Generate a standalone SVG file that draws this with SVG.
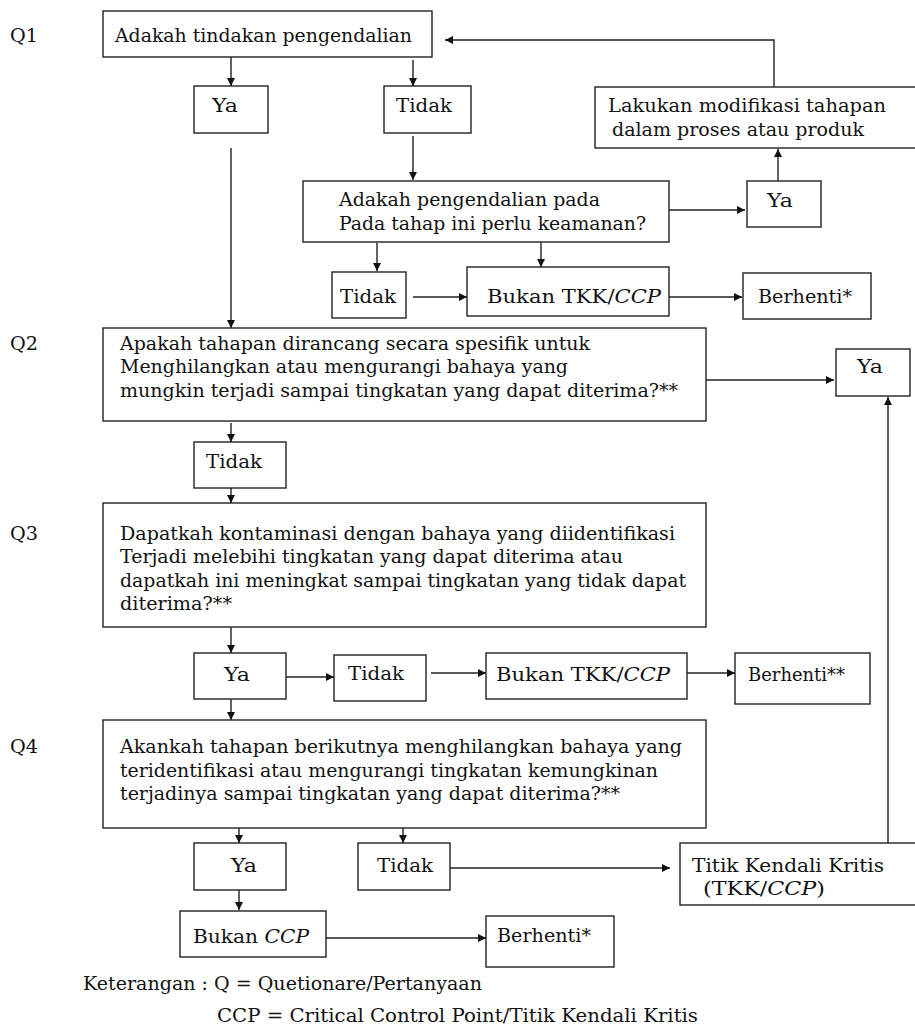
<svg xmlns="http://www.w3.org/2000/svg" width="915" height="1030" viewBox="0 0 915 1030">
<defs>
<style>
.box{fill:#fff;stroke:#222;stroke-width:1.4}
.ln{fill:none;stroke:#222;stroke-width:1.4}
.t{font-family:"DejaVu Serif","Liberation Serif",serif;font-size:18.5px;fill:#111}
.i{font-style:italic}
</style>
<marker id="ah" viewBox="0 0 10 10" refX="10" refY="5" markerWidth="8" markerHeight="9" markerUnits="userSpaceOnUse" orient="auto">
<path d="M0,0 L10,5 L0,10 z" fill="#111"/>
</marker>
</defs>
<rect width="915" height="1030" fill="#fff"/>

<g id="labels">
<text class="t" x="10" y="42" textLength="28" lengthAdjust="spacingAndGlyphs">Q1</text>
<text class="t" x="10" y="350" textLength="28" lengthAdjust="spacingAndGlyphs">Q2</text>
<text class="t" x="10" y="540" textLength="28" lengthAdjust="spacingAndGlyphs">Q3</text>
<text class="t" x="10" y="753" textLength="28" lengthAdjust="spacingAndGlyphs">Q4</text>
</g>

<g id="connectors">
<line class="ln" x1="231" y1="57" x2="231" y2="86" marker-end="url(#ah)"/>
<line class="ln" x1="413" y1="60" x2="413" y2="86" marker-end="url(#ah)"/>
<line class="ln" x1="231" y1="148" x2="231" y2="328" marker-end="url(#ah)"/>
<line class="ln" x1="413" y1="136" x2="413" y2="180" marker-end="url(#ah)"/>
<line class="ln" x1="377" y1="243" x2="377" y2="271" marker-end="url(#ah)"/>
<line class="ln" x1="541" y1="242" x2="541" y2="267" marker-end="url(#ah)"/>
<line class="ln" x1="413" y1="297" x2="467" y2="297" marker-end="url(#ah)"/>
<line class="ln" x1="669" y1="297" x2="742" y2="297" marker-end="url(#ah)"/>
<line class="ln" x1="669" y1="210" x2="745" y2="210" marker-end="url(#ah)"/>
<line class="ln" x1="778" y1="181" x2="778" y2="149" marker-end="url(#ah)"/>
<polyline class="ln" points="774,87 774,40 445,40" marker-end="url(#ah)"/>
<line class="ln" x1="706" y1="380" x2="834" y2="380" marker-end="url(#ah)"/>
<line class="ln" x1="231" y1="423" x2="231" y2="442" marker-end="url(#ah)"/>
<line class="ln" x1="231" y1="488" x2="231" y2="503" marker-end="url(#ah)"/>
<line class="ln" x1="231" y1="627" x2="231" y2="653" marker-end="url(#ah)"/>
<line class="ln" x1="286" y1="677" x2="334" y2="677" marker-end="url(#ah)"/>
<line class="ln" x1="431" y1="673" x2="486" y2="673" marker-end="url(#ah)"/>
<line class="ln" x1="687" y1="673" x2="735" y2="673" marker-end="url(#ah)"/>
<line class="ln" x1="231" y1="699" x2="231" y2="720" marker-end="url(#ah)"/>
<line class="ln" x1="239" y1="828" x2="239" y2="843" marker-end="url(#ah)"/>
<line class="ln" x1="403" y1="828" x2="403" y2="843" marker-end="url(#ah)"/>
<line class="ln" x1="450" y1="868" x2="670" y2="868" marker-end="url(#ah)"/>
<line class="ln" x1="888" y1="843" x2="888" y2="397" marker-end="url(#ah)"/>
<line class="ln" x1="239" y1="890" x2="239" y2="910" marker-end="url(#ah)"/>
<line class="ln" x1="326" y1="938" x2="486" y2="938" marker-end="url(#ah)"/>
</g>

<g id="n-q1">
<rect class="box" x="103" y="11" width="329" height="46"/>
<text class="t" x="115" y="42" textLength="297" lengthAdjust="spacingAndGlyphs">Adakah tindakan pengendalian</text>
</g>
<g id="n-q1-ya">
<rect class="box" x="194" y="86" width="74" height="47"/>
<text class="t" x="212" y="112" textLength="26" lengthAdjust="spacingAndGlyphs">Ya</text>
</g>
<g id="n-q1-tidak">
<rect class="box" x="384" y="86" width="87" height="47"/>
<text class="t" x="396" y="112" textLength="56" lengthAdjust="spacingAndGlyphs">Tidak</text>
</g>
<g id="n-modifikasi">
<rect class="box" x="595" y="87" width="325" height="61"/>
<text class="t" x="608" y="112" textLength="278" lengthAdjust="spacingAndGlyphs">Lakukan modifikasi tahapan</text>
<text class="t" x="612" y="136" textLength="252" lengthAdjust="spacingAndGlyphs">dalam proses atau produk</text>
</g>
<g id="n-q1b">
<rect class="box" x="303" y="181" width="366" height="61"/>
<text class="t" x="339" y="206" textLength="261" lengthAdjust="spacingAndGlyphs">Adakah pengendalian pada</text>
<text class="t" x="339" y="230" textLength="307" lengthAdjust="spacingAndGlyphs">Pada tahap ini perlu keamanan?</text>
</g>
<g id="n-q1b-ya">
<rect class="box" x="747" y="181" width="74" height="46"/>
<text class="t" x="767" y="207" textLength="26" lengthAdjust="spacingAndGlyphs">Ya</text>
</g>
<g id="n-q1b-tidak">
<rect class="box" x="332" y="272" width="74" height="46"/>
<text class="t" x="340" y="303" textLength="56" lengthAdjust="spacingAndGlyphs">Tidak</text>
</g>
<g id="n-bukan1">
<rect class="box" x="467" y="267" width="202" height="49"/>
<text class="t" x="487" y="303" textLength="174" lengthAdjust="spacingAndGlyphs">Bukan TKK/<tspan class="i">CCP</tspan></text>
</g>
<g id="n-berhenti1">
<rect class="box" x="743" y="273" width="128" height="46"/>
<text class="t" x="758" y="303" textLength="94" lengthAdjust="spacingAndGlyphs">Berhenti*</text>
</g>

<g id="n-q2">
<rect class="box" x="103" y="328" width="603" height="93"/>
<text class="t" x="120" y="350" textLength="470" lengthAdjust="spacingAndGlyphs">Apakah tahapan dirancang secara spesifik untuk</text>
<text class="t" x="120" y="373" textLength="448" lengthAdjust="spacingAndGlyphs">Menghilangkan atau mengurangi bahaya yang</text>
<text class="t" x="120" y="397" textLength="558" lengthAdjust="spacingAndGlyphs">mungkin terjadi sampai tingkatan yang dapat diterima?**</text>
</g>
<g id="n-q2-ya">
<rect class="box" x="836" y="349" width="74" height="47"/>
<text class="t" x="857" y="373" textLength="26" lengthAdjust="spacingAndGlyphs">Ya</text>
</g>
<g id="n-q2-tidak">
<rect class="box" x="194" y="442" width="92" height="46"/>
<text class="t" x="206" y="468" textLength="56" lengthAdjust="spacingAndGlyphs">Tidak</text>
</g>

<g id="n-q3">
<rect class="box" x="103" y="503" width="603" height="124"/>
<text class="t" x="120" y="540" textLength="555" lengthAdjust="spacingAndGlyphs">Dapatkah kontaminasi dengan bahaya yang diidentifikasi</text>
<text class="t" x="120" y="563" textLength="503" lengthAdjust="spacingAndGlyphs">Terjadi melebihi tingkatan yang dapat diterima atau</text>
<text class="t" x="120" y="587" textLength="566" lengthAdjust="spacingAndGlyphs">dapatkah ini meningkat sampai tingkatan yang tidak dapat</text>
<text class="t" x="120" y="610" textLength="112" lengthAdjust="spacingAndGlyphs">diterima?**</text>
</g>
<g id="n-q3-ya">
<rect class="box" x="194" y="653" width="92" height="46"/>
<text class="t" x="224" y="681" textLength="26" lengthAdjust="spacingAndGlyphs">Ya</text>
</g>
<g id="n-q3-tidak">
<rect class="box" x="334" y="655" width="92" height="46"/>
<text class="t" x="348" y="680" textLength="56" lengthAdjust="spacingAndGlyphs">Tidak</text>
</g>
<g id="n-bukan2">
<rect class="box" x="486" y="653" width="201" height="46"/>
<text class="t" x="496" y="681" textLength="174" lengthAdjust="spacingAndGlyphs">Bukan TKK/<tspan class="i">CCP</tspan></text>
</g>
<g id="n-berhenti2">
<rect class="box" x="735" y="653" width="135" height="51"/>
<text class="t" x="748" y="681" textLength="97" lengthAdjust="spacingAndGlyphs">Berhenti**</text>
</g>

<g id="n-q4">
<rect class="box" x="103" y="720" width="603" height="108"/>
<text class="t" x="120" y="753" textLength="562" lengthAdjust="spacingAndGlyphs">Akankah tahapan berikutnya menghilangkan bahaya yang</text>
<text class="t" x="120" y="777" textLength="538" lengthAdjust="spacingAndGlyphs">teridentifikasi atau mengurangi tingkatan kemungkinan</text>
<text class="t" x="120" y="800" textLength="500" lengthAdjust="spacingAndGlyphs">terjadinya sampai tingkatan yang dapat diterima?**</text>
</g>
<g id="n-q4-ya">
<rect class="box" x="194" y="843" width="92" height="47"/>
<text class="t" x="231" y="872" textLength="26" lengthAdjust="spacingAndGlyphs">Ya</text>
</g>
<g id="n-q4-tidak">
<rect class="box" x="358" y="843" width="92" height="47"/>
<text class="t" x="377" y="872" textLength="56" lengthAdjust="spacingAndGlyphs">Tidak</text>
</g>
<g id="n-tkk">
<rect class="box" x="680" y="843" width="240" height="62"/>
<text class="t" x="692" y="872" textLength="192" lengthAdjust="spacingAndGlyphs">Titik Kendali Kritis</text>
<text class="t" x="703" y="895" textLength="122" lengthAdjust="spacingAndGlyphs">(TKK/<tspan class="i">CCP</tspan>)</text>
</g>
<g id="n-bukan-ccp">
<rect class="box" x="180" y="911" width="146" height="46"/>
<text class="t" x="193" y="943" textLength="116" lengthAdjust="spacingAndGlyphs">Bukan <tspan class="i">CCP</tspan></text>
</g>
<g id="n-berhenti3">
<rect class="box" x="486" y="916" width="128" height="51"/>
<text class="t" x="497" y="942" textLength="94" lengthAdjust="spacingAndGlyphs">Berhenti*</text>
</g>

<g id="legend">
<text class="t" x="83" y="990" textLength="399" lengthAdjust="spacingAndGlyphs">Keterangan : Q = Quetionare/Pertanyaan</text>
<text class="t" x="217" y="1022" textLength="481" lengthAdjust="spacingAndGlyphs">CCP = Critical Control Point/Titik Kendali Kritis</text>
</g>
</svg>
